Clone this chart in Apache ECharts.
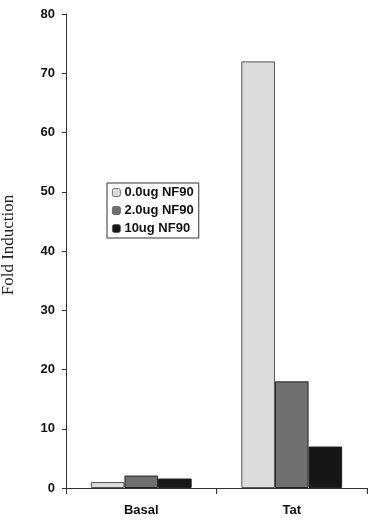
<!DOCTYPE html>
<html><head><meta charset="utf-8">
<script src="https://cdn.jsdelivr.net/npm/echarts@6/dist/echarts.min.js"></script>
<style>html,body{margin:0;padding:0;background:#fff}#c{width:378px;height:525px}</style>
</head><body><div id="c"></div>
<script>
const categories = ['Basal', 'Tat'];
const seriesNames = ['0.0ug NF90', '2.0ug NF90', '10ug NF90'];
const values0 = [1.0, 72];
const values2 = [2.1, 18];
const values10 = [1.6, 7];
const yTicks = [0, 10, 20, 30, 40, 50, 60, 70, 80];

const colors = ['#dcdcdc', '#707070', '#161616'];
const seriesData = [values0, values2, values10];
const chart = echarts.init(document.getElementById('c'), null, {renderer: 'canvas'});
chart.setOption({
  animation: false,
  backgroundColor: '#fff',
  grid: {left: 66, right: 11, top: 14, bottom: 37, containLabel: false, outerBoundsMode: 'none'},
  legend: {
    left: 107, top: 183, orient: 'vertical',
    itemWidth: 8, itemHeight: 8, itemGap: 5,
    padding: [3, 5, 3, 5],
    borderColor: '#333', borderWidth: 1,
    textStyle: {fontFamily: 'Liberation Sans, Arial', fontWeight: 'bold', fontSize: 13, color: '#111', padding: [0, 0, 0, -1]},
    data: seriesNames.map((n, i) => ({name: n, itemStyle: {color: colors[i], borderColor: '#555', borderWidth: 0.8}}))
  },
  xAxis: {
    type: 'category', data: categories,
    axisLine: {lineStyle: {color: '#333', width: 1}},
    axisTick: {show: true, length: 6, lineStyle: {color: '#333'}},
    axisLabel: {margin: 16, fontFamily: 'Liberation Sans, Arial', fontWeight: 'bold', fontSize: 13, color: '#111'}
  },
  yAxis: {
    type: 'value', min: yTicks[0], max: yTicks[yTicks.length - 1], interval: 10,
    name: 'Fold Induction', nameLocation: 'middle', nameGap: 49, nameRotate: 90,
    nameTextStyle: {fontFamily: 'Liberation Serif, Times New Roman', fontSize: 17, color: '#222', padding: [0, 0, 0, 12]},
    axisLine: {show: true, lineStyle: {color: '#333', width: 1}},
    axisTick: {show: true, length: 4, lineStyle: {color: '#333'}},
    splitLine: {show: false},
    axisLabel: {margin: 11, fontFamily: 'Liberation Sans, Arial', fontWeight: 'bold', fontSize: 13, color: '#111'}
  },
  series: seriesNames.map((n, i) => ({
    name: n, type: 'bar', data: seriesData[i],
    barGap: '0%', barCategoryGap: '33%',
    itemStyle: {color: colors[i], borderColor: i === 0 ? '#555' : '#222', borderWidth: 1}
  }))
});
</script></body></html>
